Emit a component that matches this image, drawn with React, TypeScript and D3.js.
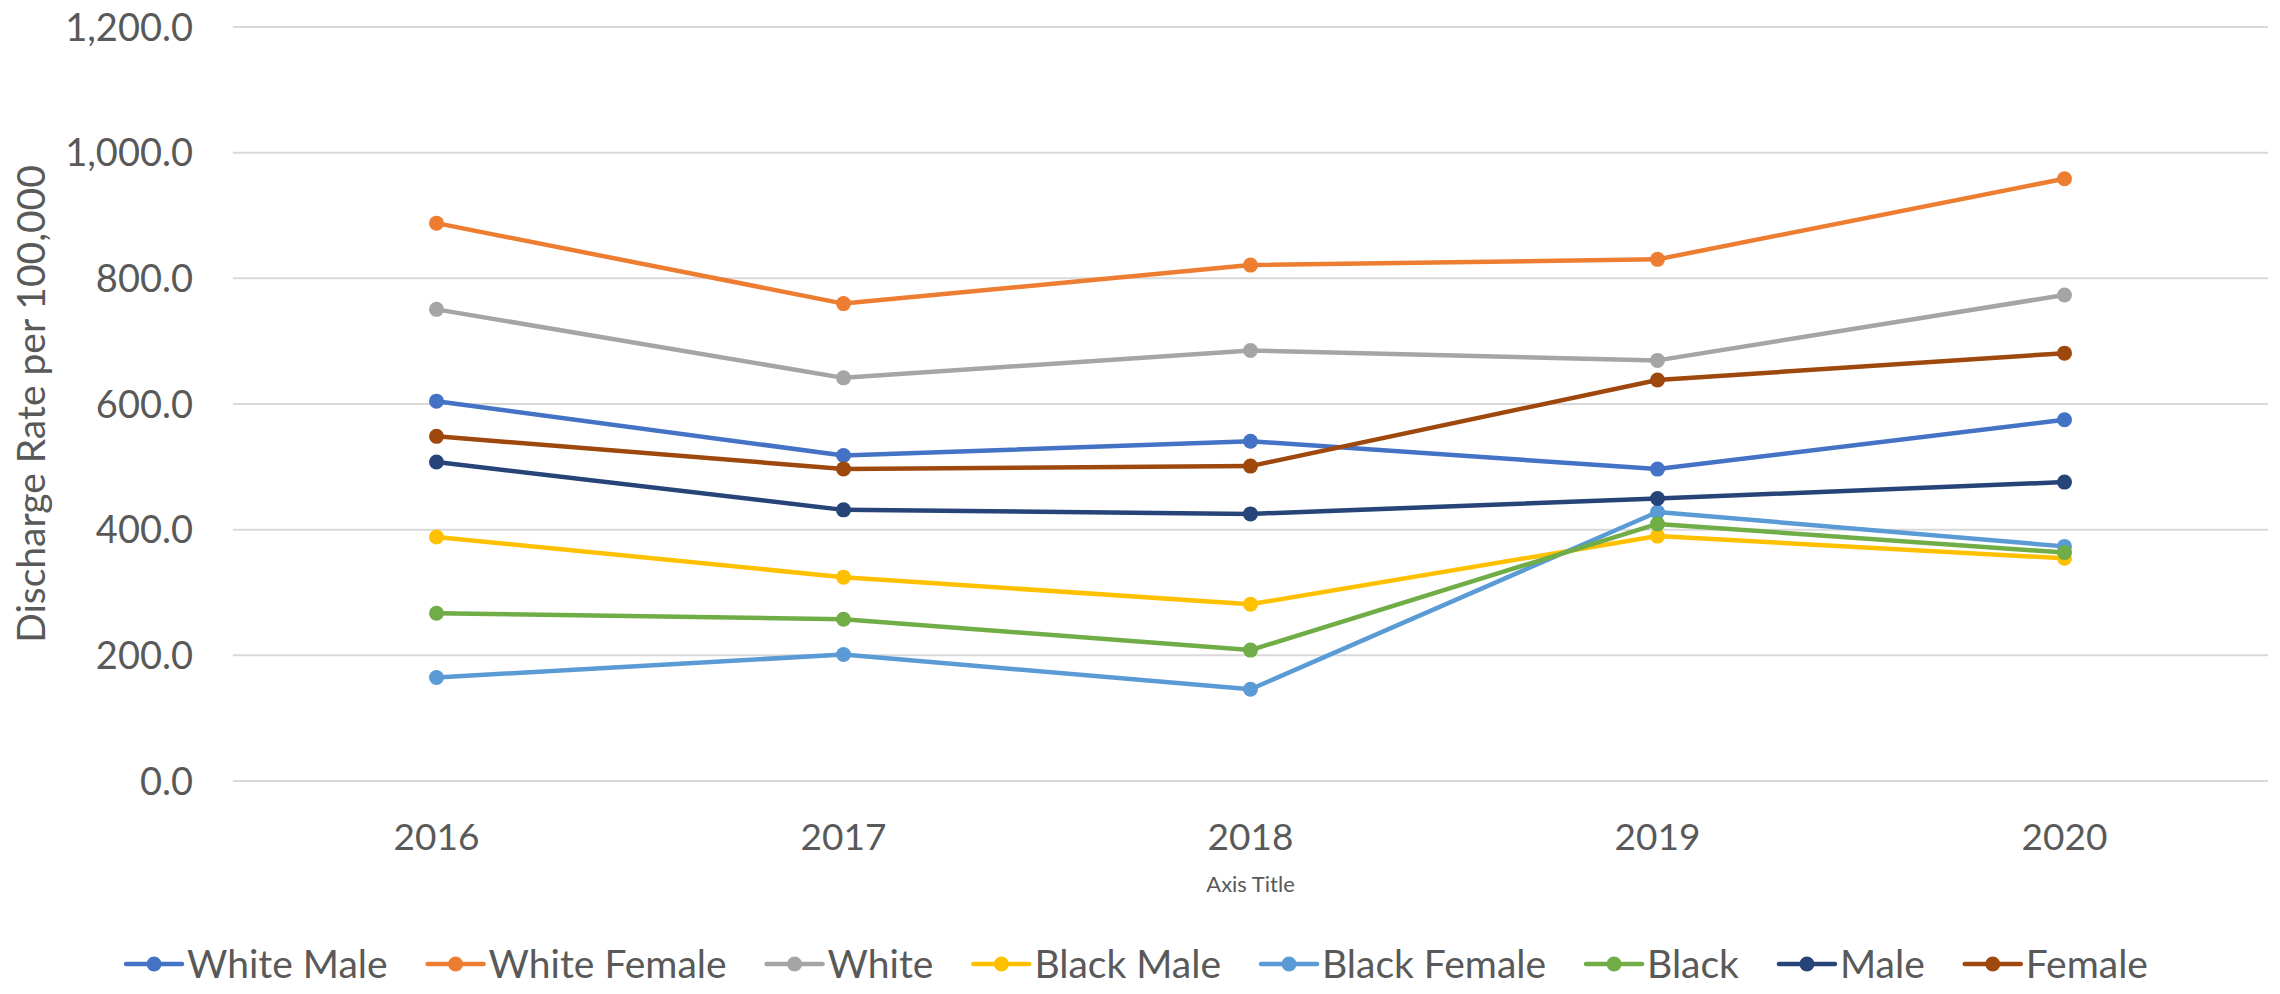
import React, { useRef, useEffect } from 'react';
import * as d3 from 'd3';

const years = ['2016', '2017', '2018', '2019', '2020'];

const whiteMale = [604.5, 518.0, 540.8, 496.4, 574.9];
const whiteFemale = [887.8, 759.8, 821.1, 830.2, 958.6];
const white = [750.6, 641.6, 685.2, 669.4, 773.5];
const blackMale = [388.3, 324.4, 281.4, 389.8, 354.4];
const blackFemale = [164.7, 201.3, 146.1, 428.1, 373.4];
const black = [267.0, 257.4, 208.3, 409.2, 363.5];
const male = [507.7, 431.5, 425.1, 449.5, 475.7];
const female = [548.5, 496.7, 501.2, 638.2, 680.9];

const seriesNames = ['White Male', 'White Female', 'White', 'Black Male', 'Black Female', 'Black', 'Male', 'Female'];
const seriesColors = ['#4472C4', '#ED7D31', '#A5A5A5', '#FFC000', '#5B9BD5', '#70AD47', '#264478', '#9E480E'];
const yTicks = [0, 200, 400, 600, 800, 1000, 1200];

const WIDTH = 2280;
const HEIGHT = 994;
const FONT = 'Lato, "Open Sans", sans-serif';
const TEXT = '#595959';

const App: React.FC = () => {
  const svgRef = useRef<SVGSVGElement | null>(null);

  useEffect(() => {
    if (!svgRef.current) return;
    const svg = d3.select(svgRef.current);
    svg.selectAll('*').remove();

    const series = [whiteMale, whiteFemale, white, blackMale, blackFemale, black, male, female]
      .map((values, i) => ({ name: seriesNames[i], color: seriesColors[i], values }));

    const left = 233;
    const right = 2268;
    const top = 27;
    const bottom = 781;

    const xScale = d3.scaleBand().domain(years).range([left, right]);
    const yScale = d3.scaleLinear().domain([0, 1200]).range([bottom, top]);
    const xc = (d: string) => (xScale(d) ?? 0) + xScale.bandwidth() / 2;

    // gridlines
    svg.append('g')
      .selectAll('line')
      .data(yTicks)
      .enter()
      .append('line')
      .attr('x1', left)
      .attr('x2', right)
      .attr('y1', d => yScale(d))
      .attr('y2', d => yScale(d))
      .attr('stroke', '#D9D9D9')
      .attr('stroke-width', 2);

    // y tick labels
    svg.append('g')
      .selectAll('text')
      .data(yTicks)
      .enter()
      .append('text')
      .attr('x', 193)
      .attr('y', d => yScale(d))
      .attr('dy', '0.36em')
      .attr('text-anchor', 'end')
      .attr('font-family', FONT)
      .attr('font-size', 38)
      .attr('fill', TEXT)
      .text(d => d3.format(',.1f')(d));

    // x tick labels
    svg.append('g')
      .selectAll('text')
      .data(years)
      .enter()
      .append('text')
      .attr('x', d => xc(d))
      .attr('y', 850)
      .attr('text-anchor', 'middle')
      .attr('font-family', FONT)
      .attr('font-size', 37)
      .attr('fill', TEXT)
      .text(d => d);

    // axis titles
    svg.append('text')
      .attr('x', (left + right) / 2)
      .attr('y', 892)
      .attr('text-anchor', 'middle')
      .attr('font-family', FONT)
      .attr('font-size', 22)
      .attr('fill', TEXT)
      .text('Axis Title');

    svg.append('text')
      .attr('transform', `translate(45, ${(top + bottom) / 2}) rotate(-90)`)
      .attr('text-anchor', 'middle')
      .attr('font-family', FONT)
      .attr('font-size', 39)
      .attr('fill', TEXT)
      .text('Discharge Rate per 100,000');

    const line = d3.line<number>()
      .x((_, i) => xc(years[i]))
      .y(d => yScale(d));

    series.forEach(s => {
      const g = svg.append('g');
      g.append('path')
        .datum(s.values)
        .attr('d', line)
        .attr('fill', 'none')
        .attr('stroke', s.color)
        .attr('stroke-width', 4.5)
        .attr('stroke-linejoin', 'round')
        .attr('stroke-linecap', 'round');
      g.selectAll('circle')
        .data(s.values)
        .enter()
        .append('circle')
        .attr('cx', (_, i) => xc(years[i]))
        .attr('cy', d => yScale(d))
        .attr('r', 7.5)
        .attr('fill', s.color);
    });

    // legend
    const legend = svg.append('g');
    const legendY = 964;
    const lineLen = 56;
    const gapText = 5;
    const gapItem = 40;
    const items = series.map(s => {
      const item = legend.append('g');
      item.append('line')
        .attr('x1', 0).attr('x2', lineLen)
        .attr('y1', legendY).attr('y2', legendY)
        .attr('stroke', s.color)
        .attr('stroke-width', 4.5)
        .attr('stroke-linecap', 'round');
      item.append('circle')
        .attr('cx', lineLen / 2).attr('cy', legendY)
        .attr('r', 7.5).attr('fill', s.color);
      const t = item.append('text')
        .attr('x', lineLen + gapText)
        .attr('y', legendY)
        .attr('dy', '0.36em')
        .attr('font-family', FONT)
        .attr('font-size', 39)
        .attr('fill', TEXT)
        .text(s.name);
      const w = (t.node() as SVGTextElement).getComputedTextLength();
      return { item, width: lineLen + gapText + w };
    });
    const total = d3.sum(items, d => d.width) + gapItem * (items.length - 1);
    let x = 1137 - total / 2;
    items.forEach(d => {
      d.item.attr('transform', `translate(${x}, 0)`);
      x += d.width + gapItem;
    });
  }, []);

  return (
    <div style={{ position: 'absolute', left: 0, top: 0, width: WIDTH, height: HEIGHT, background: '#fff' }}>
      <svg ref={svgRef} width={WIDTH} height={HEIGHT}></svg>
    </div>
  );
};

export default App;
